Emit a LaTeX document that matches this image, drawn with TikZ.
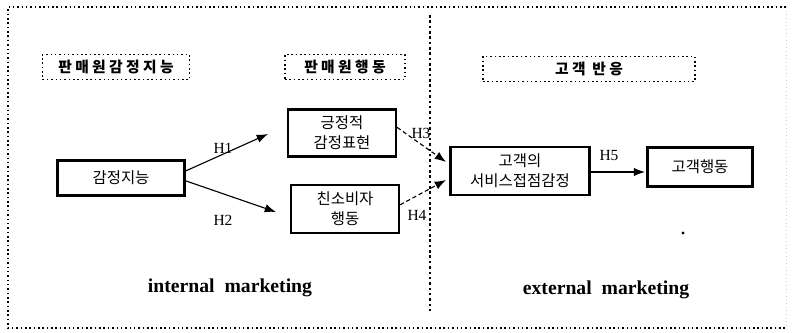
\documentclass[tikz,border=0pt]{standalone}
\usepackage{fontspec}
\setmainfont{Liberation Serif}
\newfontfamily\kr{Noto Sans CJK KR}
\usetikzlibrary{arrows.meta}

\begin{document}
\begin{tikzpicture}[x=0.025cm,y=-0.025cm,
    blok/.style={draw, line width=1.6pt, align=center, inner sep=1pt, font=\kr\fontsize{11}{14}\selectfont},
    zag/.style={draw, dotted, line width=1.1pt, font=\kr\bfseries\fontsize{10.5}{12}\selectfont, minimum height=0.625cm},
    strelka/.style={-{Latex[length=8pt,width=6pt]}, line width=0.8pt},
    metka/.style={font=\fontsize{11}{12}\selectfont},
    napis/.style={font=\bfseries\fontsize{14}{16}\selectfont}]
    \useasboundingbox (0,0) rectangle (793,332);
    % рамка
    \draw [dotted, line width=1.1pt] (786,7) -- (8,7) -- (8,328) -- (786,328);
    \draw [dotted, line width=0.6pt, gray!40] (786,7) -- (786,328);
    % разделитель
    \draw [dotted, line width=1.8pt] (430,15) -- (430,312);

    % заголовки
    \node [zag, minimum width=3.675cm] (z1) at (116,67) {판 매 원 감 정 지 능};
    \node [zag, minimum width=3cm] (z2) at (345,67) {판 매 원 행 동};
    \node [zag, minimum width=5.3cm] (z3) at (589,69) {고 객 \ 반 응};

    % блоки
    \node [blok, minimum width=3.175cm, minimum height=0.875cm] (ei) at (121,178) {감정지능};
    \node [blok, minimum width=2.7cm, minimum height=1.175cm] (pos) at (342,133) {긍정적\\감정표현};
    \node [blok, minimum width=2.7cm, minimum height=1.2cm] (pro) at (345,209) {친소비자\\행동};
    \node [blok, minimum width=3.475cm, minimum height=1.2cm] (emo) at (520,171) {고객의\\서비스접점감정};
    \node [blok, minimum width=2.625cm, minimum height=0.975cm] (beh) at (700,167) {고객행동};

    % концы стрелок
    \coordinate (t1) at (268,134);
    \coordinate (t2) at (276,212);
    \coordinate (t3) at (446,162);
    \coordinate (t4) at (446,180);
    \coordinate (t5) at (645,172);

    % стрелки
    \draw [strelka] ([yshift=5pt]ei.east) -- (t1);
    \draw [strelka] ([yshift=-2pt]ei.east) -- (t2);
    \draw [strelka, densely dashed] ([yshift=4pt]pos.east) -- (t3);
    \draw [strelka, densely dashed] ([yshift=3pt]pro.east) -- (t4);
    \draw [strelka] (emo.east |- t5) -- (t5);

    % метки
    \node [metka] (h1) at (223,148) {H1};
    \node [metka] (h2) at (223,220) {H2};
    \node [metka] (h3) at (421,133) {H3};
    \node [metka] (h4) at (417,215) {H4};
    \node [metka] (h5) at (609,156) {H5};

    \fill (683,233) circle (1.6);

    \node [napis] (im) at (230,288) {internal\ \ marketing};
    \node [napis] (em) at (606,290) {external\ \ marketing};
\end{tikzpicture}
\end{document}
